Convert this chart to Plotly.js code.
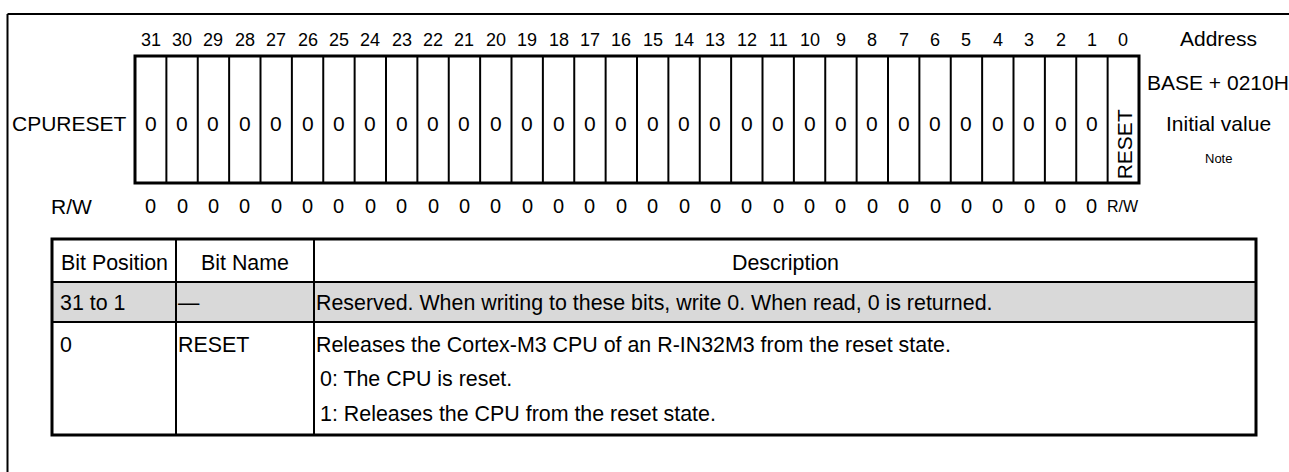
<!DOCTYPE html>
<html>
<head>
<meta charset="utf-8">
<script src="https://cdn.plot.ly/plotly-3.0.1.min.js"></script>
<style>html,body{margin:0;padding:0;background:#fff;}#chart{width:1289px;height:472px;}</style>
</head>
<body>
<div id="chart"></div>
<script>
// ---------- data ----------
const registerName = "CPURESET";
const bitNumbers = [31,30,29,28,27,26,25,24,23,22,21,20,19,18,17,16,15,14,13,12,11,10,9,8,7,6,5,4,3,2,1,0];
const bitFields = ["0","0","0","0","0","0","0","0","0","0","0","0","0","0","0","0","0","0","0","0","0","0","0","0","0","0","0","0","0","0","0","RESET"];
const rwValues = ["0","0","0","0","0","0","0","0","0","0","0","0","0","0","0","0","0","0","0","0","0","0","0","0","0","0","0","0","0","0","0","R/W"];
const rwLabel = "R/W";
const sideLabels = ["Address","BASE + 0210H","Initial value","Note"];
const tableHeader = ["Bit Position","Bit Name","Description"];
const tableBitPos = ["31 to 1","0"];
const tableBitName = ["\u2014","RESET"];
const tableDescMain = ["Reserved. When writing to these bits, write 0. When read, 0 is returned.",
                       "Releases the Cortex-M3 CPU of an R-IN32M3 from the reset state."];
const tableDescSub = [[], ["0: The CPU is reset.","1: Releases the CPU from the reset state."]];
const shadedRows = [true,false];

// ---------- layout constants (pixels) ----------
const W = 1289, H = 472;
const FONT = "Liberation Sans, Arial, sans-serif";
const box = {x0:135, x1:1139, y0:56, y1:183};
const cellW = (box.x1 - box.x0) / bitNumbers.length;
const yBitNum = 40, yCell = 123, yRW = 206;
const sideX = 1218, sideY = [38, 82, 123, 158], sideSize = [21,21,21,13];
const tbl = {x0:52, x1:1256, y0:239, cols:[176,314], rowTops:[282,322], y1:435};
const headerY = 263, rowLine1 = [303, 345], subLineY = [379, 414];
const TS = 21.4;

const shapes = [];
const ann = [];
function line(x0,y0,x1,y1,w){shapes.push({type:'line',xref:'x',yref:'y',x0,y0,x1,y1,line:{color:'#000',width:w}});}
function txt(x,y,t,size,xa,extra){ann.push(Object.assign({x,y,xref:'x',yref:'y',text:t,showarrow:false,xanchor:xa||'center',yanchor:'middle',font:{family:FONT,size:size,color:'#000'}},extra||{}));}

// outer frame
line(7.5,14,W+5,14,2);
line(7.5,14,7.5,H+5,2);

// register box
shapes.push({type:'rect',xref:'x',yref:'y',x0:box.x0,x1:box.x1,y0:box.y0,y1:box.y1,line:{color:'#000',width:3}});
for(let k=1;k<bitNumbers.length;k++){const x=box.x0+k*cellW;line(x,box.y0,x,box.y1,2);}

bitNumbers.forEach((b,i)=>{
  const cx = box.x0 + (i+0.5)*cellW;
  txt(cx, yBitNum, String(b), 18);
  const f = bitFields[i];
  if(f.length>1) txt(cx+1, 144, f, 21, 'center', {textangle:-90});
  else txt(cx, yCell, f, 21);
  const r = rwValues[i];
  if(r.length>1) ann.push({x:cx,y:yRW,xref:'x',yref:'y',text:r,showarrow:false,xanchor:'center',yanchor:'middle',font:{family:'Liberation Sans Narrow, Arial Narrow, sans-serif',size:16,color:'#000'}});
  else txt(cx, yRW, r, 20);
});
txt(129, yCell, registerName, 21, 'right');
txt(71, yRW, rwLabel, 21);
sideLabels.forEach((s,i)=>txt(sideX, sideY[i], s, sideSize[i]));

// table
tableBitPos.forEach((p,i)=>{
  if(shadedRows[i]){
    const y0 = tbl.rowTops[i], y1 = (i+1<tbl.rowTops.length)?tbl.rowTops[i+1]:tbl.y1;
    shapes.push({type:'rect',xref:'x',yref:'y',x0:tbl.x0,x1:tbl.x1,y0,y1,fillcolor:'#d9d9d9',line:{width:0}});
  }
});
shapes.push({type:'rect',xref:'x',yref:'y',x0:tbl.x0,x1:tbl.x1,y0:tbl.y0,y1:tbl.y1,line:{color:'#000',width:3}});
tbl.cols.forEach(x=>line(x,tbl.y0,x,tbl.y1,2));
tbl.rowTops.forEach(y=>line(tbl.x0,y,tbl.x1,y,2));

const colCenters=[(tbl.x0+tbl.cols[0])/2,(tbl.cols[0]+tbl.cols[1])/2,(tbl.cols[1]+tbl.x1)/2];
tableHeader.forEach((h,i)=>txt(colCenters[i],headerY,h,TS));
tableBitPos.forEach((p,i)=>{
  txt(tbl.x0+6, rowLine1[i], p, TS, 'left');
  txt(tbl.cols[0], rowLine1[i], tableBitName[i], TS, 'left');
  txt(tbl.cols[1], rowLine1[i], tableDescMain[i], TS, 'left');
  tableDescSub[i].forEach((s,j)=>txt(tbl.cols[1]+4, subLineY[j], s, TS, 'left'));
});

const layout = {
  width:W, height:H, margin:{l:0,r:0,t:0,b:0},
  paper_bgcolor:'#fff', plot_bgcolor:'#fff', showlegend:false,
  xaxis:{range:[0,W],visible:false,fixedrange:true},
  yaxis:{range:[H,0],visible:false,fixedrange:true},
  shapes:shapes, annotations:ann
};
Plotly.newPlot('chart', [{x:[],y:[],type:'scatter',mode:'markers',hoverinfo:'skip'}], layout, {staticPlot:true,displayModeBar:false});
</script>
</body>
</html>
